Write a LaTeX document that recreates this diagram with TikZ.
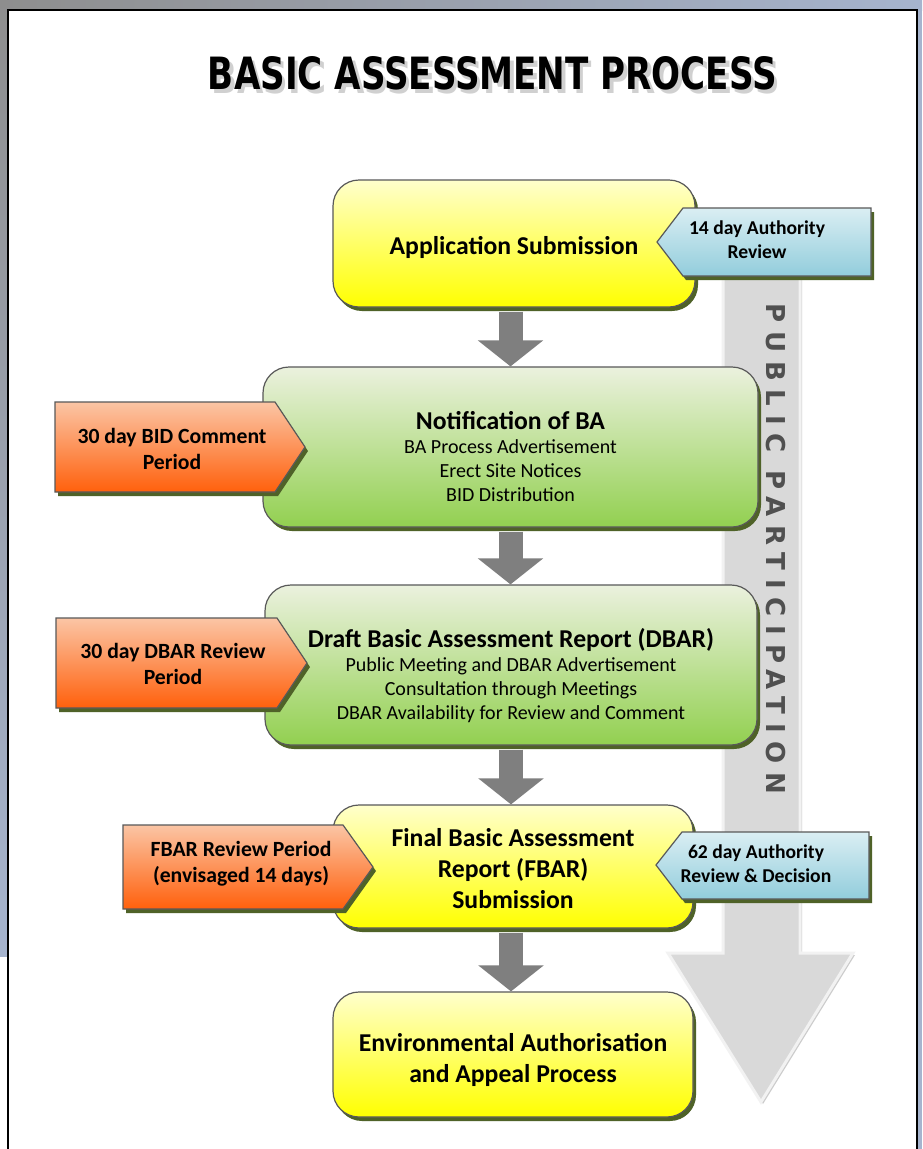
\documentclass[tikz,border=0pt]{standalone}
\usepackage{fontspec}
\usepackage{graphicx}
\setmainfont{Carlito}
\newfontfamily\headfont{DejaVu Sans}
\newfontfamily\spacedfont{DejaVu Sans}[LetterSpace=34]
\usetikzlibrary{arrows.meta,shadows}
\definecolor{ylwtop}{RGB}{255,255,204}
\definecolor{ylwbot}{RGB}{255,255,0}
\definecolor{grntop}{RGB}{235,241,222}
\definecolor{grnbot}{RGB}{146,208,80}
\definecolor{orgtop}{RGB}{251,197,165}
\definecolor{orgbot}{RGB}{255,96,12}
\definecolor{blutop}{RGB}{218,238,243}
\definecolor{blubot}{RGB}{146,205,220}
\definecolor{edgegray}{RGB}{89,89,89}
\definecolor{lettergray}{RGB}{80,80,80}
\definecolor{shadowolive}{RGB}{79,98,40}
\definecolor{flowgray}{RGB}{127,127,127}
\definecolor{bigfill}{RGB}{217,217,217}
\definecolor{bigedge}{RGB}{242,242,242}
\definecolor{outerblue}{RGB}{166,180,206}
\definecolor{outergray}{RGB}{142,142,142}
\begin{document}
\begin{tikzpicture}[x=1pt,y=-1pt]
\tikzset{box/.style = {draw=edgegray, line width=1.2pt, rounded corners=26pt, inner sep=0pt,
    drop shadow={shadow xshift=3pt, shadow yshift=-4pt, fill=shadowolive, opacity=1}},
  yellowbox/.style = {box, top color=ylwtop, bottom color=ylwbot},
  greenbox/.style = {box, top color=grntop, bottom color=grnbot},
  boxtitle/.style = {align=center, inner sep=0pt, font=\bfseries\fontsize{25.7}{31}\selectfont},
  boxdetail/.style = {align=center, inner sep=0pt, font=\fontsize{20}{24}\selectfont},
  tag/.style = {draw=edgegray, line width=1.2pt,
    drop shadow={shadow xshift=3pt, shadow yshift=-4pt, fill=shadowolive, opacity=1}},
  orangetag/.style = {tag, top color=orgtop, bottom color=orgbot},
  bluetag/.style = {tag, top color=blutop, bottom color=blubot},
  orangetext/.style = {align=center, inner sep=0pt, font=\bfseries\fontsize{21.7}{26}\selectfont},
  bluetext/.style = {align=center, inner sep=0pt, font=\bfseries\fontsize{19.6}{24}\selectfont},
  flow/.style = {draw=flowgray, line width=24pt, shorten <=4pt, -{Triangle[length=26pt,width=64pt]}}}
\useasboundingbox (0,0) rectangle (922,1149);
% page and frame
\fill[outerblue] (0,0) rectangle (922,1149);
\shade[left color=outergray, middle color=outergray, right color=outerblue] (0,0) rectangle (922,10);
\shade[top color=outergray, bottom color=outerblue] (0,0) rectangle (8,957);
\fill[white] (0,957) rectangle (8,1149);
\draw[line width=2pt, fill=white] (8,10) rectangle (917,1160);
% title
\node[text=gray!60, opacity=0.6, inner sep=0pt] (titleshadow) at (496,77) {\resizebox{569pt}{33pt}{\headfont\bfseries BASIC ASSESSMENT PROCESS}};
\node[inner sep=0pt] (title) at (492.5,73.5) {\resizebox{569pt}{33pt}{\headfont\bfseries BASIC ASSESSMENT PROCESS}};
% public participation arrow
\fill[gray!40] (725,270) -- (725,955) -- (671,955) -- (763,1104) -- (855,955) -- (802,955) -- (802,270);
\draw[draw=bigedge, line width=3pt, fill=bigfill] (723,270) -- (723,953) -- (668,953) -- (761,1102) -- (853,953) -- (800,953) -- (800,270);
\node[rotate=-90, text=lettergray, font=\spacedfont\bfseries\fontsize{26}{30}\selectfont] (pubpart) at (776,549) {PUBLIC PARTICIPATION};
% process boxes
\node[yellowbox, minimum width=362pt, minimum height=127pt] (app) at (514,243.5) {};
\node[greenbox, minimum width=495pt, minimum height=160pt] (notif) at (510.5,447) {};
\node[greenbox, minimum width=492pt, minimum height=160pt] (draft) at (511,665) {};
\node[yellowbox, minimum width=360pt, minimum height=123pt] (fbar) at (513,866.5) {};
\node[yellowbox, minimum width=360pt, minimum height=125pt] (final) at (513,1054.5) {};
\node[boxtitle] (apptext) at ([yshift=-4pt]app.center) {Application Submission};
\node[boxdetail] (notiftext) at ([yshift=-10pt]notif.center) {{\bfseries\fontsize{25.7}{25}\selectfont Notification of BA}\\BA Process Advertisement\\Erect Site Notices\\BID Distribution};
\node[boxdetail] (drafttext) at ([yshift=-11pt]draft.center) {{\bfseries\fontsize{25.7}{25}\selectfont Draft Basic Assessment Report (DBAR)}\\Public Meeting and DBAR Advertisement\\Consultation through Meetings\\DBAR Availability for Review and Comment};
\node[boxtitle] (fbartext) at ([yshift=-2pt]fbar.center) {Final Basic Assessment\\Report (FBAR)\\Submission};
\node[boxtitle] (finaltext) at ([yshift=-5pt]final.center) {Environmental Authorisation\\and Appeal Process};
% flow arrows
\draw[flow] (notif.north |- app.south) -- (notif.north);
\draw[flow] (notif.south) -- (notif.south |- draft.north);
\draw[flow] (draft.south) -- (draft.south |- fbar.north);
\draw[flow] (draft.south |- fbar.south) -- (draft.south |- final.north);
% period tags
\path[orangetag] (55,402) -- (275,402) -- (305,447) -- (275,492) -- (55,492) -- cycle;
\path[orangetag] (56,618) -- (277,618) -- (307,663) -- (277,708) -- (56,708) -- cycle;
\path[orangetag] (123,825) -- (343,825) -- (373,867) -- (343,909) -- (123,909) -- cycle;
\path[bluetag] (871,208) -- (683,208) -- (657,242) -- (683,276) -- (871,276) -- cycle;
\path[bluetag] (869,832) -- (682,832) -- (656,865) -- (682,899) -- (869,899) -- cycle;
\node[orangetext] (bidtext) at (172,449) {30 day BID Comment\\Period};
\node[orangetext] (dbartext) at (173,664) {30 day DBAR Review\\Period};
\node[orangetext] (fbarperiod) at (241,864) {FBAR Review Period\\(envisaged 14 days)};
\node[bluetext] (authtext) at (757,240) {14 day Authority\\Review};
\node[bluetext] (decisiontext) at (756,864) {62 day Authority\\Review \& Decision};
\end{tikzpicture}
\end{document}
